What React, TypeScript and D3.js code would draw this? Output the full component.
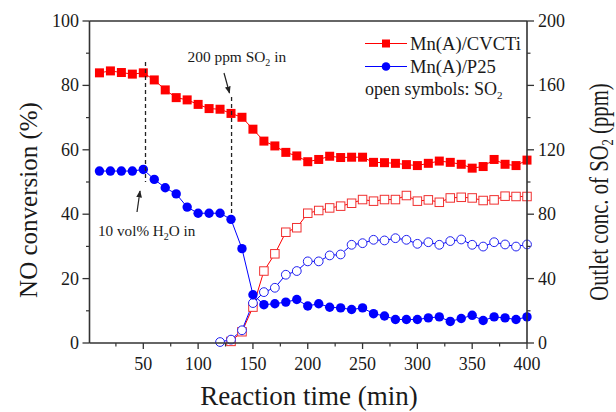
import React from "react";
import * as d3 from "d3";

const timesNO = [10,20,30,40,50,60,70,80,90,100,110,120,130,140,150,160,170,180,190,200,210,220,230,240,250,260,270,280,290,300,310,320,330,340,350,360,370,380,390,400];
const cvctiNO = [83.9,84.5,84.0,83.5,83.9,81.7,78.6,76.2,75.5,74.1,72.8,72.6,71.3,70.1,66.4,62.7,61.2,59.2,58.1,56.3,57.0,58.0,57.6,57.7,57.7,56.1,56.0,55.8,55.4,55.1,55.8,56.5,56.1,55.5,54.3,54.8,57.0,55.5,55.1,56.8];
const p25NO = [53.4,53.4,53.4,53.4,53.9,50.8,48.2,46.3,42.2,40.3,40.3,40.3,38.4,29.3,15.0,11.9,12.2,12.7,13.5,11.5,12.2,11.1,10.9,10.4,10.9,9.1,8.4,7.3,7.3,7.3,7.8,8.1,6.7,7.6,8.6,7.0,8.1,7.8,7.3,8.1];

const timesCvctiSO2 = [130,140,150,160,170,180,190,200,210,220,230,240,250,260,270,280,290,300,310,320,330,340,350,360,370,380,390,400];
const cvctiSO2 = [1.0,7.0,22.3,44.7,55.4,68.8,71.6,80.6,82.3,83.9,85.0,86.8,89.1,88.1,89.1,89.1,91.6,88.1,88.9,87.4,90.1,90.5,90.1,88.5,88.9,91.2,91.0,91.0];
const timesP25SO2 = [120,130,140,150,160,170,180,190,200,210,220,230,240,250,260,270,280,290,300,310,320,330,340,350,360,370,380,390,400];
const p25SO2 = [0.6,2.1,7.9,24.8,31.6,34.3,42.4,44.7,50.7,50.7,54.4,55.0,61.0,62.0,64.1,63.7,65.1,64.1,61.6,62.6,61.0,63.3,64.3,61.0,59.9,62.6,61.2,59.9,61.2];

const xTicks = [50,100,150,200,250,300,350,400];
const xMinor = [25,75,125,175,225,275,325,375];
const yLeftTicks = [0,20,40,60,80,100];
const yLeftMinor = [10,30,50,70,90];
const yRightTicks = [0,40,80,120,160,200];
const yRightMinor = [20,60,100,140,180];

const RED = "#ff0000";
const BLUE = "#0000ff";
const AX = "#333";
const TXT = "#1a1a1a";
const FONT = "'Liberation Serif', 'Times New Roman', serif";

export default function App() {
  const L = 89.5, R = 527, T = 21, B = 343;
  const x = d3.scaleLinear().domain([0, 400]).range([88.5, R]);
  const yL = d3.scaleLinear().domain([0, 100]).range([B, T]);
  const yR = d3.scaleLinear().domain([0, 200]).range([B, T]);

  const lineNO = (ys: number[]) =>
    d3.line<number>().x((_, i) => x(timesNO[i])).y((v) => yL(v))(ys) || "";
  const lineSO2 = (ts: number[], ys: number[]) =>
    d3.line<number>().x((_, i) => x(ts[i])).y((v) => yR(v))(ys) || "";

  const sq = 9, sqOpen = 8.5, r = 4.7, rOpen = 4.4;

  return (
    <svg width={616} height={412} style={{ position: "absolute", left: 0, top: 0, background: "#fff" }} fontFamily={FONT}>
      <defs>
        <marker id="arr" viewBox="0 0 10 10" refX="9" refY="5" markerWidth="6" markerHeight="6" orient="auto">
          <path d="M0,1 L10,5 L0,9 z" fill="#222" />
        </marker>
      </defs>

      {/* series lines */}
      <path d={lineSO2(timesCvctiSO2, cvctiSO2)} fill="none" stroke={RED} strokeWidth={1} />
      <path d={lineSO2(timesP25SO2, p25SO2)} fill="none" stroke={BLUE} strokeWidth={1} />
      <path d={lineNO(cvctiNO)} fill="none" stroke={RED} strokeWidth={1} />
      <path d={lineNO(p25NO)} fill="none" stroke={BLUE} strokeWidth={1} />

      {/* open symbols */}
      {cvctiSO2.map((v, i) => (
        <rect key={"cs" + i} x={x(timesCvctiSO2[i]) - sqOpen / 2} y={yR(v) - sqOpen / 2} width={sqOpen} height={sqOpen} fill="#fff" stroke="#f03030" strokeWidth={1} />
      ))}
      {p25SO2.map((v, i) => (
        <circle key={"ps" + i} cx={x(timesP25SO2[i])} cy={yR(v)} r={rOpen} fill="#fff" stroke="#2020f0" strokeWidth={1} />
      ))}

      {/* filled symbols */}
      {cvctiNO.map((v, i) => (
        <rect key={"cn" + i} x={x(timesNO[i]) - sq / 2} y={yL(v) - sq / 2} width={sq} height={sq} fill={RED} />
      ))}
      {p25NO.map((v, i) => (
        <circle key={"pn" + i} cx={x(timesNO[i])} cy={yL(v)} r={r} fill={BLUE} />
      ))}

      {/* dashed event lines */}
      <line x1={x(52)} x2={x(52)} y1={62} y2={182} stroke="#222" strokeWidth={1.3} strokeDasharray="4,3" />
      <line x1={x(130.5)} x2={x(130.5)} y1={97} y2={213} stroke="#222" strokeWidth={1.3} strokeDasharray="4,3" />

      {/* annotations */}
      <text x={187.5} y={62} fontSize={15.4} fill={TXT}>
        200 ppm SO<tspan fontSize={10} dy={3.5}>2</tspan><tspan dy={-3.5}> in</tspan>
      </text>
      <line x1={224} y1={73} x2={229.5} y2={93} stroke="#222" strokeWidth={1.2} markerEnd="url(#arr)" />
      <text x={98} y={236} fontSize={15.2} fill={TXT}>
        10 vol% H<tspan fontSize={10} dy={3.5}>2</tspan><tspan dy={-3.5}>O in</tspan>
      </text>
      <line x1={137} y1={212} x2={140} y2={191} stroke="#222" strokeWidth={1.2} markerEnd="url(#arr)" />

      {/* legend */}
      <line x1={365} x2={407} y1={43.5} y2={43.5} stroke={RED} strokeWidth={1} />
      <rect x={386 - 4} y={43.5 - 4} width={8} height={8} fill={RED} />
      <text x={410} y={50} fontSize={18.6} fill={TXT}>Mn(A)/CVCTi</text>
      <line x1={365} x2={407} y1={66.5} y2={66.5} stroke={BLUE} strokeWidth={1} />
      <circle cx={386} cy={66.5} r={4.3} fill={BLUE} />
      <text x={410} y={73} fontSize={18.6} fill={TXT}>Mn(A)/P25</text>
      <text x={365} y={95} fontSize={18} fill={TXT}>
        open symbols: SO<tspan fontSize={11} dy={4}>2</tspan>
      </text>

      {/* frame */}
      <line x1={L} x2={R} y1={T} y2={T} stroke={AX} strokeWidth={1.6} />
      <line x1={L} x2={R} y1={B} y2={B} stroke={AX} strokeWidth={1.6} />
      <line x1={L} x2={L} y1={T} y2={B} stroke={AX} strokeWidth={1.6} />
      <line x1={R} x2={R} y1={T} y2={B} stroke={AX} strokeWidth={1.6} />

      {/* x ticks */}
      {xTicks.map((t) => (
        <g key={"xt" + t}>
          <line x1={x(t)} x2={x(t)} y1={B} y2={B + 6} stroke={AX} strokeWidth={1.3} />
          <text x={x(t)} y={370} fontSize={18} textAnchor="middle" fill={TXT}>{t}</text>
        </g>
      ))}
      {xMinor.map((t) => (
        <line key={"xm" + t} x1={x(t)} x2={x(t)} y1={B} y2={B + 3.5} stroke={AX} strokeWidth={1.2} />
      ))}

      {/* left ticks */}
      {yLeftTicks.map((t) => (
        <g key={"yl" + t}>
          <line x1={L - 7} x2={L} y1={yL(t)} y2={yL(t)} stroke={AX} strokeWidth={1.3} />
          <text x={79} y={yL(t) + 6} fontSize={18} textAnchor="end" fill={TXT}>{t}</text>
        </g>
      ))}
      {yLeftMinor.map((t) => (
        <line key={"ylm" + t} x1={L - 3.5} x2={L} y1={yL(t)} y2={yL(t)} stroke={AX} strokeWidth={1.2} />
      ))}

      {/* right ticks */}
      {yRightTicks.map((t) => (
        <g key={"yr" + t}>
          <line x1={R} x2={R + 7} y1={yR(t)} y2={yR(t)} stroke={AX} strokeWidth={1.3} />
          <text x={538} y={yR(t) + 6} fontSize={18} textAnchor="start" fill={TXT}>{t}</text>
        </g>
      ))}
      {yRightMinor.map((t) => (
        <line key={"yrm" + t} x1={R} x2={R + 3.5} y1={yR(t)} y2={yR(t)} stroke={AX} strokeWidth={1.2} />
      ))}

      {/* axis titles */}
      <text x={309} y={405} fontSize={27} textAnchor="middle" fill={TXT}>Reaction time (min)</text>
      <text transform="translate(37,200) rotate(-90)" fontSize={25} textAnchor="middle" fill={TXT}>NO conversion (%)</text>
      <text transform="translate(608,192) rotate(-90) scale(0.74,1)" fontSize={28} textAnchor="middle" fill={TXT}>
        Outlet conc. of SO<tspan fontSize={17} dy={5}>2</tspan><tspan dy={-5}> (ppm)</tspan>
      </text>
    </svg>
  );
}
